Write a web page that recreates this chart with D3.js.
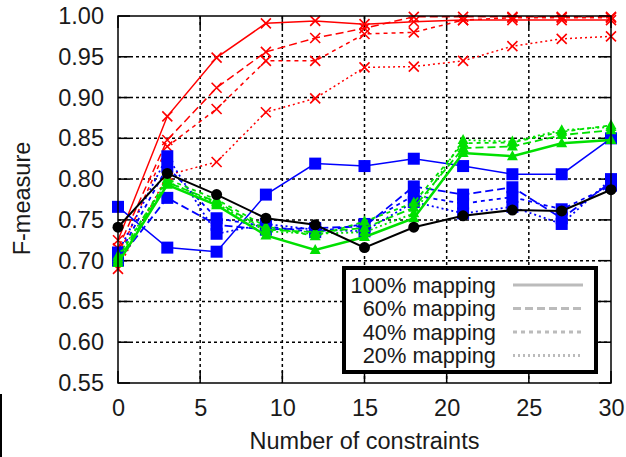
<!DOCTYPE html>
<html>
<head>
<meta charset="utf-8">
<script src="https://cdn.jsdelivr.net/npm/d3@7"></script>
<style>
  body { margin: 0; background: #fff; }
  svg text { font-family: "Liberation Sans", Arial, sans-serif; fill: #1a1a1a; }
</style>
</head>
<body>
<svg id="chart" width="626" height="457"></svg>
<script>
// constraint counts on the x axis
const constraints = [0, 3, 6, 9, 12, 15, 18, 21, 24, 27, 30];

// red (x markers)
const red100 = [0.725, 0.877, 0.949, 0.991, 0.994, 0.990, 0.993, 0.995, 0.995, 0.995, 0.995];
const red60  = [0.715, 0.848, 0.912, 0.956, 0.973, 0.985, 0.999, 0.999, 0.999, 0.999, 0.999];
const red40  = [0.705, 0.840, 0.886, 0.945, 0.945, 0.978, 0.980, 0.995, 0.998, 0.998, 0.998];
const red20  = [0.690, 0.805, 0.821, 0.882, 0.899, 0.937, 0.938, 0.945, 0.963, 0.972, 0.975];

// blue (squares)
const blue100 = [0.766, 0.716, 0.711, 0.781, 0.819, 0.816, 0.825, 0.816, 0.806, 0.806, 0.850];
const blue60  = [0.700, 0.777, 0.744, 0.738, 0.740, 0.742, 0.791, 0.781, 0.790, 0.752, 0.796];
const blue40  = [0.705, 0.815, 0.752, 0.742, 0.735, 0.745, 0.780, 0.770, 0.778, 0.763, 0.792];
const blue20  = [0.710, 0.828, 0.733, 0.745, 0.738, 0.736, 0.772, 0.758, 0.766, 0.745, 0.800];

// green (triangles)
const green100 = [0.697, 0.793, 0.768, 0.731, 0.713, 0.729, 0.752, 0.832, 0.828, 0.844, 0.848];
const green60  = [0.700, 0.796, 0.772, 0.738, 0.735, 0.740, 0.765, 0.838, 0.840, 0.854, 0.860];
const green40  = [0.703, 0.800, 0.775, 0.742, 0.730, 0.748, 0.771, 0.844, 0.845, 0.858, 0.866];
const green20  = [0.706, 0.797, 0.770, 0.736, 0.733, 0.735, 0.758, 0.848, 0.846, 0.860, 0.864];

// black (circles)
const black100 = [0.741, 0.807, 0.781, 0.752, 0.744, 0.716, 0.741, 0.755, 0.762, 0.761, 0.787];

const xTicks = [0, 5, 10, 15, 20, 25, 30];
const yTicks = [0.55, 0.60, 0.65, 0.70, 0.75, 0.80, 0.85, 0.90, 0.95, 1.00];
const legendLabels = ['100% mapping', '60% mapping', '40% mapping', '20% mapping'];

const dashes = { 100: null, 60: '8,4', 40: '4,4', 20: '2,3' };

const svg = d3.select('#chart');
const margin = {top: 16, right: 15, bottom: 74, left: 118};
const width = 626 - margin.left - margin.right;
const height = 457 - margin.top - margin.bottom;
const g = svg.append('g').attr('transform', 'translate(' + margin.left + ',' + margin.top + ')');

const x = d3.scaleLinear().domain([0, 30]).range([0, width]);
const y = d3.scaleLinear().domain([0.55, 1.0]).range([height, 0]);

// grid (dashed)
g.append('g').selectAll('line')
  .data(xTicks.slice(1, -1))
  .enter().append('line')
  .attr('x1', d => x(d)).attr('x2', d => x(d))
  .attr('y1', 0).attr('y2', height)
  .attr('stroke', '#000').attr('stroke-width', 1.5)
  .attr('stroke-dasharray', '3,3');
g.append('g').selectAll('line')
  .data(yTicks.slice(1, -1))
  .enter().append('line')
  .attr('x1', 0).attr('x2', width)
  .attr('y1', d => y(d)).attr('y2', d => y(d))
  .attr('stroke', '#000').attr('stroke-width', 1.5)
  .attr('stroke-dasharray', '3,3');

// axes with labels
const yAxis = g.append('g')
  .call(d3.axisLeft(y).tickValues(yTicks).tickFormat(d3.format('.2f')).tickSize(0).tickPadding(14));
const xAxis = g.append('g')
  .attr('transform', 'translate(0,' + height + ')')
  .call(d3.axisBottom(x).tickValues(xTicks).tickSize(0).tickPadding(16));
[yAxis, xAxis].forEach(a => {
  a.select('.domain').remove();
  a.selectAll('text').style('font-size', '23.5px');
});

// inward tick marks on all four sides
const tl = 12;
const ticksG = g.append('g').attr('stroke', '#000').attr('stroke-width', 1.5);
yTicks.forEach(v => {
  ticksG.append('line').attr('x1', 0).attr('x2', tl).attr('y1', y(v)).attr('y2', y(v));
  ticksG.append('line').attr('x1', width - tl).attr('x2', width).attr('y1', y(v)).attr('y2', y(v));
});
xTicks.forEach(v => {
  ticksG.append('line').attr('x1', x(v)).attr('x2', x(v)).attr('y1', height).attr('y2', height - tl);
  ticksG.append('line').attr('x1', x(v)).attr('x2', x(v)).attr('y1', 0).attr('y2', tl);
});

// series
const line = d3.line().x((d, i) => x(constraints[i])).y(d => y(d));

function drawSeries(values, color, pct, lw, marker) {
  g.append('path')
    .datum(values)
    .attr('fill', 'none')
    .attr('stroke', color)
    .attr('stroke-width', lw)
    .attr('stroke-dasharray', dashes[pct])
    .attr('d', line);
  const pts = g.append('g');
  values.forEach((v, i) => {
    const cx = x(constraints[i]), cy = y(v);
    if (marker === 'x') {
      pts.append('path')
        .attr('d', `M${cx - 5},${cy - 5}L${cx + 5},${cy + 5}M${cx - 5},${cy + 5}L${cx + 5},${cy - 5}`)
        .attr('stroke', color).attr('stroke-width', 1.6);
    } else if (marker === 'square') {
      pts.append('rect').attr('x', cx - 6).attr('y', cy - 6)
        .attr('width', 12).attr('height', 12).attr('fill', color);
    } else if (marker === 'triangle') {
      pts.append('path')
        .attr('d', `M${cx},${cy - 6}L${cx + 5.5},${cy + 4}L${cx - 5.5},${cy + 4}Z`)
        .attr('fill', color);
    } else if (marker === 'circle') {
      pts.append('circle').attr('cx', cx).attr('cy', cy).attr('r', 5.5).attr('fill', color);
    }
  });
}

const green = '#00e000';
drawSeries(red20, '#ff0000', 20, 1.5, 'x');
drawSeries(red40, '#ff0000', 40, 1.5, 'x');
drawSeries(red60, '#ff0000', 60, 1.5, 'x');
drawSeries(red100, '#ff0000', 100, 1.5, 'x');
drawSeries(blue20, '#0000ff', 20, 1.8, 'square');
drawSeries(blue40, '#0000ff', 40, 1.8, 'square');
drawSeries(blue60, '#0000ff', 60, 1.8, 'square');
drawSeries(blue100, '#0000ff', 100, 1.5, 'square');
drawSeries(green20, green, 20, 1.8, 'triangle');
drawSeries(green40, green, 40, 1.8, 'triangle');
drawSeries(green60, green, 60, 1.8, 'triangle');
drawSeries(green100, green, 100, 2.5, 'triangle');
drawSeries(black100, '#000', 100, 2, 'circle');

// plot border
g.append('rect')
  .attr('width', width).attr('height', height)
  .attr('fill', 'none').attr('stroke', '#000').attr('stroke-width', 1.5);

// legend
const lg = g.append('g').attr('transform', 'translate(' + (344 - margin.left) + ',' + (268 - margin.top) + ')');
lg.append('rect')
  .attr('width', 252).attr('height', 104)
  .attr('fill', '#fff').attr('stroke', '#000').attr('stroke-width', 4);
legendLabels.forEach((lab, i) => {
  const cy = 17 + i * 23.5;
  lg.append('text')
    .attr('x', 152).attr('y', cy).attr('dy', '0.35em')
    .attr('text-anchor', 'end')
    .style('font-size', '21.8px')
    .text(lab);
  lg.append('line')
    .attr('x1', 169).attr('x2', 239).attr('y1', cy).attr('y2', cy)
    .attr('stroke', '#bbb').attr('stroke-width', 3)
    .attr('stroke-dasharray', dashes[[100, 60, 40, 20][i]]);
});

// axis titles
svg.append('text')
  .attr('x', margin.left + width / 2).attr('y', 441).attr('dy', '0.35em')
  .attr('text-anchor', 'middle').style('font-size', '23.5px')
  .text('Number of constraints');
svg.append('text')
  .attr('transform', 'translate(22,' + (margin.top + height / 2 - 1) + ') rotate(-90)')
  .attr('dy', '0.35em')
  .attr('text-anchor', 'middle').style('font-size', '23.5px')
  .text('F-measure');

// left page edge line
svg.append('line')
  .attr('x1', 1).attr('x2', 1).attr('y1', 394).attr('y2', 457)
  .attr('stroke', '#000').attr('stroke-width', 2);
</script>
</body>
</html>
